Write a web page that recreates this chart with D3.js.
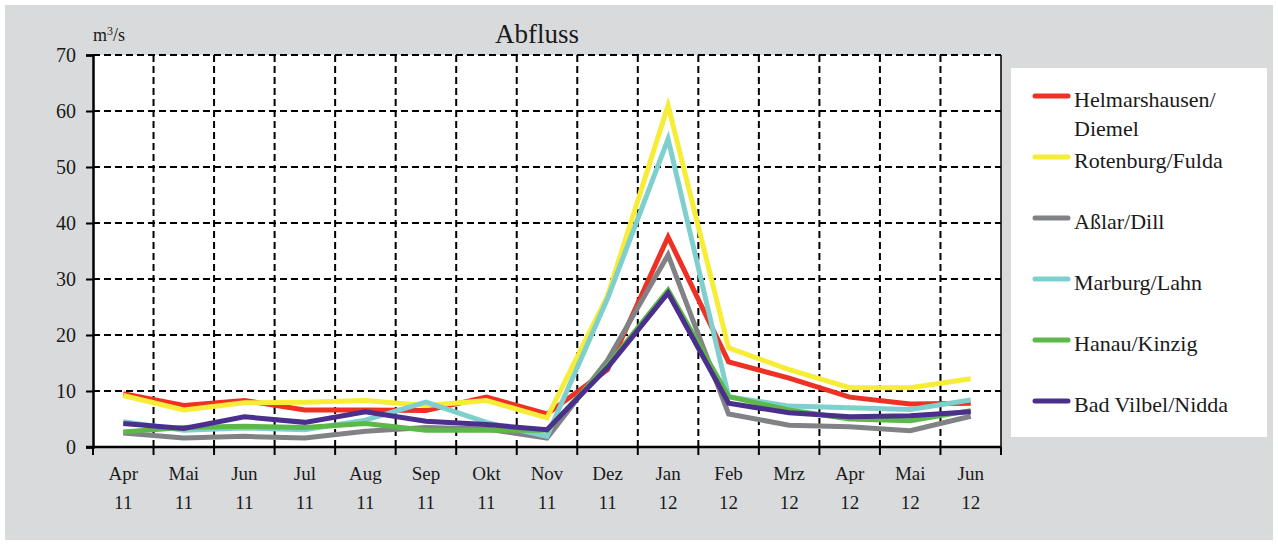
<!DOCTYPE html>
<html>
<head>
<meta charset="utf-8">
<script src="https://cdnjs.cloudflare.com/ajax/libs/d3/7.8.5/d3.min.js"></script>
<style>
    body { margin: 0; background: #ffffff; }
    svg text { font-family: "Liberation Serif", "DejaVu Serif", serif; fill: #1a1a1a; }
</style>
</head>
<body>
<div id="chart"></div>
<script>

    // months on the x axis (two-line labels)
    var months = ["Apr", "Mai", "Jun", "Jul", "Aug", "Sep", "Okt", "Nov", "Dez", "Jan", "Feb", "Mrz", "Apr", "Mai", "Jun"];
    var years  = ["11", "11", "11", "11", "11", "11", "11", "11", "11", "12", "12", "12", "12", "12", "12"];

    var yTicks = [0, 10, 20, 30, 40, 50, 60, 70];

    // discharge in m3/s
    var helmarshausen = [9.5, 7.4, 8.3, 6.6, 6.6, 6.5, 8.9, 5.9, 13.8, 37.5, 15.2, 12.3, 8.9, 7.7, 7.8];
    var rotenburg     = [9.2, 6.6, 7.9, 8.0, 8.3, 7.4, 8.3, 5.2, 27.0, 61.0, 17.7, 13.8, 10.6, 10.6, 12.2];
    var asslar        = [2.5, 1.6, 1.9, 1.6, 2.8, 3.5, 3.2, 1.6, 15.5, 34.3, 5.9, 3.9, 3.6, 2.9, 5.5];
    var marburg       = [4.5, 3.0, 3.4, 3.1, 4.8, 8.0, 4.4, 1.9, 26.5, 55.0, 9.0, 7.3, 7.0, 6.7, 8.4];
    var hanau         = [2.7, 3.5, 3.7, 3.5, 4.2, 3.0, 3.0, 3.0, 14.6, 28.0, 9.0, 6.6, 5.0, 4.7, 6.5];
    var badVilbel     = [4.2, 3.3, 5.4, 4.4, 6.3, 4.6, 4.0, 3.1, 14.2, 27.5, 7.8, 6.1, 5.4, 5.6, 6.3];

    var seriesNames  = ["Helmarshausen/\nDiemel", "Rotenburg/Fulda", "Aßlar/Dill", "Marburg/Lahn", "Hanau/Kinzig", "Bad Vilbel/Nidda"];
    var seriesColors = ["#ee3124", "#f7ec36", "#808285", "#7fcfcf", "#5cb848", "#4a2f8c"];
    var seriesValues = [helmarshausen, rotenburg, asslar, marburg, hanau, badVilbel];

    var W = 1278, H = 545;
    var margin = {top: 55, right: 277, bottom: 98, left: 93},
        width = W - margin.left - margin.right,
        height = H - margin.top - margin.bottom;

    var svg = d3.select("#chart")
        .append("svg")
        .attr("width", W)
        .attr("height", H);

    // grey frame
    svg.append("rect")
        .attr("x", 5).attr("y", 5)
        .attr("width", W - 10).attr("height", H - 10)
        .attr("fill", "#d9dadc");

    var g = svg.append("g")
        .attr("transform", "translate(" + margin.left + "," + margin.top + ")");

    var x = d3.scaleBand()
        .domain(d3.range(months.length))
        .range([0, width])
        .paddingInner(0).paddingOuter(0);

    var y = d3.scaleLinear()
        .domain([0, 70])
        .range([height, 0]);

    // plot background
    g.append("rect")
        .attr("width", width).attr("height", height)
        .attr("fill", "#ffffff");

    // horizontal dashed grid
    g.append("g")
        .selectAll("line")
        .data(yTicks.slice(1))
        .enter()
        .append("line")
        .attr("x1", 0).attr("x2", width)
        .attr("y1", function (d) { return y(d); })
        .attr("y2", function (d) { return y(d); })
        .attr("stroke", "#000")
        .attr("stroke-width", 2)
        .attr("stroke-dasharray", "7,4");

    // vertical dashed grid at month boundaries
    g.append("g")
        .selectAll("line")
        .data(d3.range(1, months.length))
        .enter()
        .append("line")
        .attr("x1", function (d) { return x(d); })
        .attr("x2", function (d) { return x(d); })
        .attr("y1", 0).attr("y2", height)
        .attr("stroke", "#000")
        .attr("stroke-width", 2)
        .attr("stroke-dasharray", "7,4");

    // right border
    g.append("line")
        .attr("x1", width).attr("x2", width)
        .attr("y1", 0).attr("y2", height)
        .attr("stroke", "#000")
        .attr("stroke-width", 1.5);

    // Y axis
    var yAxis = g.append("g")
        .call(d3.axisLeft(y).tickValues(yTicks).tickSize(7).tickPadding(10));
    yAxis.select(".domain").attr("stroke-width", 2.5);
    yAxis.selectAll(".tick line").attr("stroke-width", 2);
    yAxis.selectAll(".tick text")
        .style("font-size", "20px")
        .attr("font-family", null);

    // X axis: line with ticks at boundaries
    g.append("line")
        .attr("x1", -7).attr("x2", width)
        .attr("y1", height).attr("y2", height)
        .attr("stroke", "#000")
        .attr("stroke-width", 2.5);
    g.append("g")
        .selectAll("line")
        .data(d3.range(0, months.length + 1))
        .enter()
        .append("line")
        .attr("x1", function (d) { return d * x.bandwidth(); })
        .attr("x2", function (d) { return d * x.bandwidth(); })
        .attr("y1", height).attr("y2", height + 8)
        .attr("stroke", "#000")
        .attr("stroke-width", 2);

    // x labels
    g.append("g")
        .selectAll("text")
        .data(months)
        .enter()
        .append("text")
        .attr("x", function (d, i) { return x(i) + x.bandwidth() / 2; })
        .attr("y", height + 33)
        .style("text-anchor", "middle")
        .style("font-size", "19px")
        .text(function (d) { return d; });
    g.append("g")
        .selectAll("text")
        .data(years)
        .enter()
        .append("text")
        .attr("x", function (d, i) { return x(i) + x.bandwidth() / 2; })
        .attr("y", height + 62)
        .style("text-anchor", "middle")
        .style("font-size", "19px")
        .text(function (d) { return d; });

    // unit label
    var unit = g.append("text")
        .attr("x", 0)
        .attr("y", -14)
        .style("font-size", "18px");
    unit.append("tspan").text("m");
    unit.append("tspan").text("3").attr("dy", -6).style("font-size", "12px");
    unit.append("tspan").text("/s").attr("dy", 6);

    // title
    g.append("text")
        .attr("x", 444)
        .attr("y", -12)
        .style("text-anchor", "middle")
        .style("font-size", "27px")
        .text("Abfluss");

    // lines
    var line = d3.line()
        .x(function (d, i) { return x(i) + x.bandwidth() / 2; })
        .y(function (d) { return y(d); });

    g.append("g")
        .selectAll("path")
        .data(seriesValues)
        .enter()
        .append("path")
        .attr("d", function (d) { return line(d); })
        .attr("fill", "none")
        .attr("stroke", function (d, i) { return seriesColors[i]; })
        .attr("stroke-width", 5)
        .attr("stroke-linejoin", "miter");

    // legend
    var legend = svg.append("g");
    legend.append("rect")
        .attr("x", 1011).attr("y", 68)
        .attr("width", 256).attr("height", 369)
        .attr("fill", "#ffffff");

    var legendY = [100, 161, 222, 283, 344, 405];
    seriesNames.forEach(function (name, i) {
        legend.append("line")
            .attr("x1", 1035).attr("x2", 1068)
            .attr("y1", legendY[i] - 4).attr("y2", legendY[i] - 4)
            .attr("stroke", seriesColors[i])
            .attr("stroke-width", 5)
            .attr("stroke-linecap", "round");
        var t = legend.append("text")
            .attr("x", 1074)
            .attr("y", legendY[i] + 7)
            .style("font-size", "22px");
        name.split("\n").forEach(function (part, k) {
            t.append("tspan")
                .attr("x", 1074)
                .attr("dy", k === 0 ? 0 : 29)
                .text(part);
        });
    });

</script>
</body>
</html>
